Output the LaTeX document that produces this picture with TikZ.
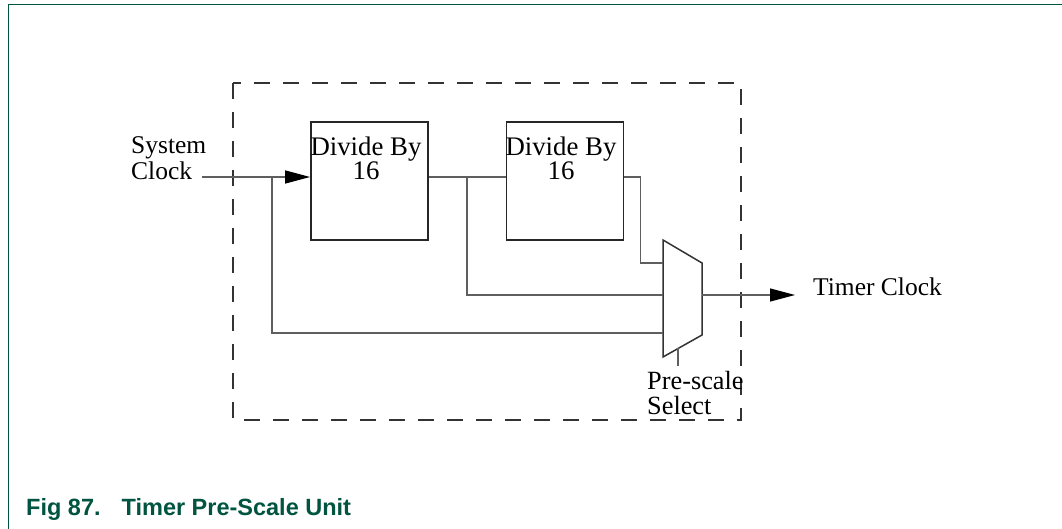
\documentclass[tikz,border=0pt]{standalone}
\usepackage{fontspec}
\setmainfont{Liberation Serif}
\newfontfamily\capfont{Liberation Sans}
\usetikzlibrary{arrows.meta}
\definecolor{nxpgreen}{RGB}{0,84,64}
\definecolor{wiregray}{RGB}{95,95,95}
\begin{document}
\begin{tikzpicture}[x=1pt,y=-1pt,
  wire/.style={draw=wiregray, line width=1.3pt},
  divbox/.style={draw=black!85, line width=1.8pt, minimum width=117pt, minimum height=118pt, inner sep=0pt},
  lbl/.style={font=\fontsize{25.5}{24.5}\selectfont, inner sep=0pt, align=center},
  arr/.style={-{Triangle[length=25pt,width=13pt,color=black]}},
  ]
\useasboundingbox (0,0) rectangle (1062,529);
% frame
\draw[nxpgreen, line width=1.6pt] (8.3,529) -- (8.3,4.5) -- (1062,4.5);
% dashed enclosure
\draw[black!80, line width=2pt, dash pattern=on 16pt off 13pt] (233,83) rectangle (741,420);
% divider boxes
\node[divbox] (d1) at (369.5,181) {};
\node[divbox] (d2) at (565,181) {};
\node[lbl, anchor=north, font=\fontsize{26.8}{24.5}\selectfont] (t1) at (366,136.5) {Divide By\\16};
\node[lbl, anchor=north, font=\fontsize{26.8}{24.5}\selectfont] (t2) at (561,136.5) {Divide By\\16};
% labels
\node[lbl, align=left, anchor=north west, font=\fontsize{25.5}{26}\selectfont] (sc) at (131,136) {System\\Clock};
\node[lbl, anchor=base west] (tclk) at (813,295) {Timer Clock};
\node[lbl, align=left, anchor=north west, font=\fontsize{26.3}{25}\selectfont] (ps) at (647,371) {Pre-scale\\Select};
% mux
\coordinate (m1) at (663,263);
\coordinate (m2) at (663,295);
\coordinate (m3) at (663,333);
\coordinate (mo) at (702,295);
\draw[black!80, line width=1.5pt] (663,240) -- (702,263) -- (702,335) -- (663,357) -- cycle;
% wires
\coordinate (in) at (202,177);
\coordinate (b1) at (272,177);
\coordinate (b2) at (467,177);
\coordinate (selA) at (678,348);
\coordinate (selB) at (678,366);
\draw[wire, arr] (in) -- (in -| d1.west);
\draw[wire] (b1) |- (m3);
\draw[wire] (in -| d1.east) -- (in -| d2.west);
\draw[wire] (b2) |- (m2);
\draw[wire] (in -| d2.east) -- ++(16,0) |- (m1);
\draw[wire, arr] (mo) -- ([xshift=-18pt]tclk.west |- mo);
\draw[wire] (selA) -- (selB);
% caption
\node[anchor=base west, inner sep=0pt, font=\capfont\bfseries\fontsize{23.5}{28}\selectfont, text=nxpgreen] (cap) at (26,515) {Fig 87.\hspace{21pt}Timer Pre-Scale Unit};
\end{tikzpicture}
\end{document}
